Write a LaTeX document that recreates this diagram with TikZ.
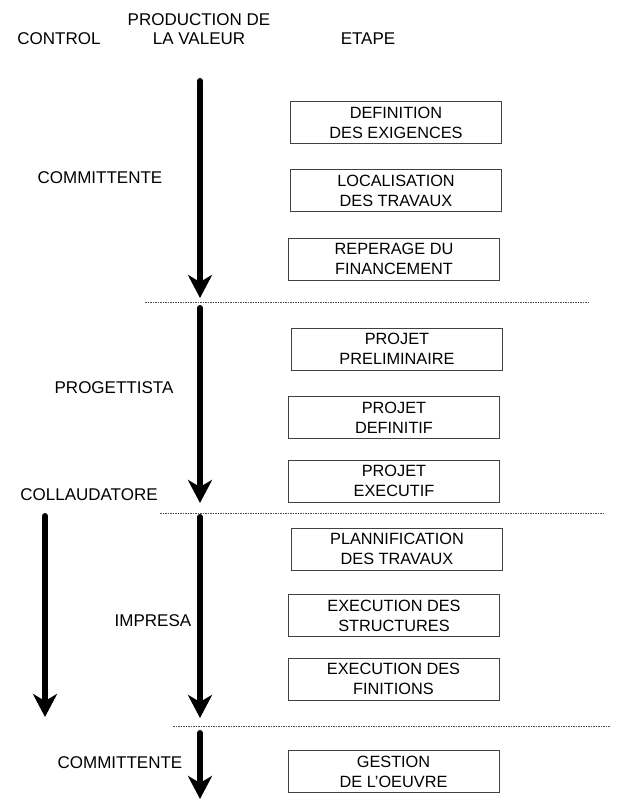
\documentclass[tikz,border=0pt]{standalone}
\usepackage{fontspec}
\setmainfont{Liberation Sans}
\usetikzlibrary{arrows.meta}
\begin{document}
\begin{tikzpicture}[x=1pt,y=-1pt,
  lbl/.style={inner sep=0pt,font=\fontsize{17}{19.5}\selectfont,align=center},
  stage/.style={draw=black!75,line width=0.9pt,inner sep=0pt,align=center,
    minimum width=211pt,minimum height=42pt,font=\fontsize{16.3}{19.8}\selectfont},
  flow/.style={line width=6pt,line cap=round,
    -{Stealth[length=23pt,width=24pt,inset=7pt,line cap=butt,line join=miter]}},
  sep/.style={draw=black!70,line width=0.9pt,dash pattern=on 1.6pt off 0.9pt}]
\useasboundingbox (0,0) rectangle (618,800);

% column headers
\node[lbl] (hctl) at (59,39) {CONTROL};
\node[lbl] (hval) at (199,29) {PRODUCTION DE\\LA VALEUR};
\node[lbl] (hstep) at (368,39) {ETAPE};

% actors
\node[lbl] (act1) at (100,178) {COMMITTENTE};
\node[lbl] (act2) at (114,388) {PROGETTISTA};
\node[lbl] (act3) at (89,495) {COLLAUDATORE};
\node[lbl] (act4) at (153,621) {IMPRESA};
\node[lbl] (act5) at (120,763) {COMMITTENTE};

% stages
\node[stage] (s1) at (396,122.5) {DEFINITION\\DES EXIGENCES};
\node[stage] (s2) at (396,190.5) {LOCALISATION\\DES TRAVAUX};
\node[stage] (s3) at (394,259) {REPERAGE DU\\FINANCEMENT};
\node[stage] (s4) at (397,349) {PROJET\\PRELIMINAIRE};
\node[stage] (s5) at (394,417.5) {PROJET\\DEFINITIF};
\node[stage] (s6) at (394,481) {PROJET\\EXECUTIF};
\node[stage] (s7) at (397,549) {PLANNIFICATION\\DES TRAVAUX};
\node[stage] (s8) at (394,615.5) {EXECUTION DES\\STRUCTURES};
\node[stage] (s9) at (393.5,679) {EXECUTION DES\\FINITIONS};
\node[stage] (s10) at (393.5,771.5) {GESTION\\DE L'OEUVRE};

% phase separators
\coordinate (d1a) at (145,302); \coordinate (d1b) at (590,302);
\coordinate (d2a) at (160,513); \coordinate (d2b) at (603,513);
\coordinate (d3a) at (173,726); \coordinate (d3b) at (610,726);
\draw[sep] (d1a) -- (d1b);
\draw[sep] (d2a) -- (d2b);
\draw[sep] (d3a) -- (d3b);

% value flow arrows
\coordinate (f1a) at (200,81);  \coordinate (f1b) at (200,298);
\coordinate (f2a) at (200,308); \coordinate (f2b) at (200,503);
\coordinate (f3a) at (200,517); \coordinate (f3b) at (200,718);
\coordinate (f4a) at (200,733); \coordinate (f4b) at (200,799);
\coordinate (c1a) at (45,516);  \coordinate (c1b) at (45,717);
\draw[flow] (f1a) -- (f1b);
\draw[flow] (f2a) -- (f2b);
\draw[flow] (f3a) -- (f3b);
\draw[flow] (f4a) -- (f4b);
\draw[flow] (c1a) -- (c1b);
\end{tikzpicture}
\end{document}
